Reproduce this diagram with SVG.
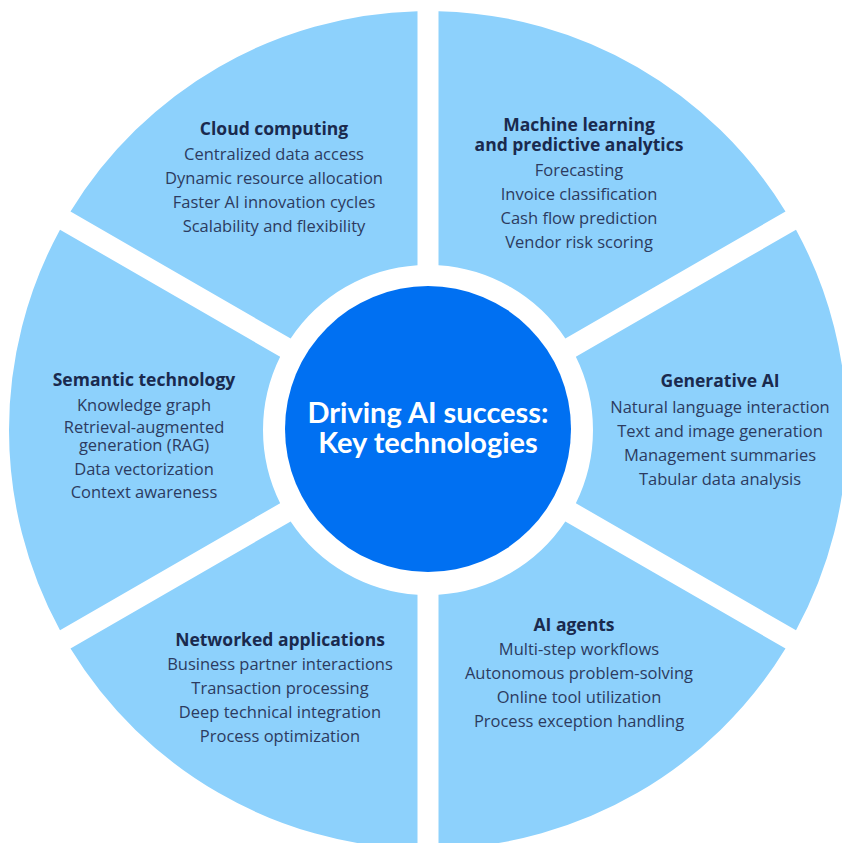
<svg xmlns="http://www.w3.org/2000/svg" width="842" height="843" viewBox="0 0 842 843">
  <style>
    .seg { fill: #8DD1FC; }
    .hub { fill: #0070F2; }
    .title { font-family: "Open Sans", Lato, "Liberation Sans", sans-serif; font-size: 17.5px; font-weight: 700; fill: #1A2A4E; text-anchor: middle; }
    .item { font-family: "Open Sans", Lato, "Liberation Sans", sans-serif; font-size: 16.5px; font-weight: 400; fill: #2C3B60; text-anchor: middle; }
    .hubtext { font-family: Lato, "Open Sans", "Liberation Sans", sans-serif; font-size: 29px; font-weight: 700; fill: #FFFFFF; text-anchor: middle; }
  </style>
  <rect width="842" height="843" fill="#FFFFFF"/>

  <!-- Outer ring: six annular sectors separated by 21px gaps -->
  <g id="cloud-computing">
    <path class="seg" d="M 290.646 338.574 L 70.5 211.473 A 419 419 0 0 1 417.5 11.132 L 417.5 265.335 A 165 165 0 0 0 290.646 338.574 Z"/>
    <text class="title" x="274" y="135">Cloud computing</text>
    <text class="item" x="274" y="160">Centralized data access</text>
    <text class="item" x="274" y="184">Dynamic resource allocation</text>
    <text class="item" x="274" y="208">Faster AI innovation cycles</text>
    <text class="item" x="274" y="232">Scalability and flexibility</text>
  </g>

  <g id="machine-learning">
    <path class="seg" d="M 438.5 265.335 L 438.5 11.132 A 419 419 0 0 1 785.5 211.473 L 565.354 338.574 A 165 165 0 0 0 438.5 265.335 Z"/>
    <text class="title" x="579" y="131">Machine learning<tspan x="579" dy="20">and predictive analytics</tspan></text>
    <text class="item" x="579" y="176">Forecasting</text>
    <text class="item" x="579" y="200">Invoice classification</text>
    <text class="item" x="579" y="224">Cash flow prediction</text>
    <text class="item" x="579" y="248">Vendor risk scoring</text>
  </g>

  <g id="generative-ai">
    <path class="seg" d="M 575.854 356.760 L 796 229.659 A 419 419 0 0 1 796 630.341 L 575.854 503.240 A 165 165 0 0 0 575.854 356.760 Z"/>
    <text class="title" x="720" y="387">Generative AI</text>
    <text class="item" x="720" y="413">Natural language interaction</text>
    <text class="item" x="720" y="437">Text and image generation</text>
    <text class="item" x="720" y="461">Management summaries</text>
    <text class="item" x="720" y="485">Tabular data analysis</text>
  </g>

  <g id="ai-agents">
    <path class="seg" d="M 565.354 521.426 L 785.5 648.527 A 419 419 0 0 1 438.5 848.868 L 438.5 594.665 A 165 165 0 0 0 565.354 521.426 Z"/>
    <text class="title" x="574" y="631">AI agents</text>
    <text class="item" x="579" y="655">Multi-step workflows</text>
    <text class="item" x="579" y="679">Autonomous problem-solving</text>
    <text class="item" x="579" y="703">Online tool utilization</text>
    <text class="item" x="579" y="727">Process exception handling</text>
  </g>

  <g id="networked-applications">
    <path class="seg" d="M 417.5 594.665 L 417.5 848.868 A 419 419 0 0 1 70.5 648.527 L 290.646 521.426 A 165 165 0 0 0 417.5 594.665 Z"/>
    <text class="title" x="280" y="646">Networked applications</text>
    <text class="item" x="280" y="670">Business partner interactions</text>
    <text class="item" x="280" y="694">Transaction processing</text>
    <text class="item" x="280" y="718">Deep technical integration</text>
    <text class="item" x="280" y="742">Process optimization</text>
  </g>

  <g id="semantic-technology">
    <path class="seg" d="M 280.146 503.240 L 60 630.341 A 419 419 0 0 1 60 229.659 L 280.146 356.760 A 165 165 0 0 0 280.146 503.240 Z"/>
    <text class="title" x="144" y="386">Semantic technology</text>
    <text class="item" x="144" y="411">Knowledge graph</text>
    <text class="item" x="144" y="433">Retrieval-augmented<tspan x="144" dy="18">generation (RAG)</tspan></text>
    <text class="item" x="144" y="475">Data vectorization</text>
    <text class="item" x="144" y="498">Context awareness</text>
  </g>

  <!-- Central hub -->
  <g id="hub">
    <circle class="hub" cx="428" cy="429" r="143"/>
    <text class="hubtext" x="428" y="423">Driving AI success:<tspan x="428" dy="30">Key technologies</tspan></text>
  </g>

  <g id="connectors"/>
</svg>
